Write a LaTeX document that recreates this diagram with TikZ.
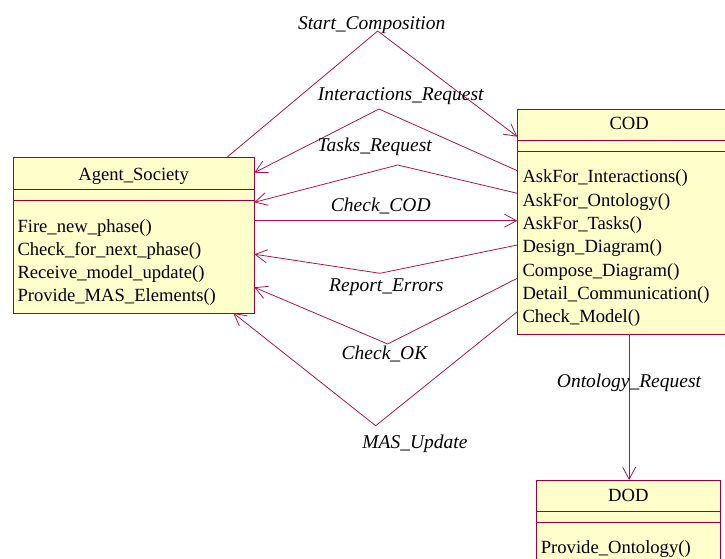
\documentclass[tikz,border=0pt]{standalone}
\usepackage{fontspec}
\setmainfont{Liberation Serif}
\usetikzlibrary{arrows.meta}
\definecolor{umlborder}{RGB}{160,0,50}
\definecolor{umlline}{RGB}{172,22,72}
\definecolor{umlfill}{RGB}{255,255,204}
\begin{document}
\begin{tikzpicture}[x=1pt,y=-1pt,
  classbox/.style={draw=umlborder, fill=umlfill, line width=0.9pt, rectangle,
    inner sep=0pt, outer sep=0pt, anchor=north west},
  divider/.style={draw=umlborder, line width=0.9pt},
  member/.style={anchor=west, inner sep=0pt, text height=13pt, text depth=4pt,
    font=\fontsize{18.6}{22}\selectfont},
  classname/.style={inner sep=0pt, text height=13pt, text depth=4pt,
    font=\fontsize{18.6}{22}\selectfont},
  msg/.style={inner sep=0pt, text height=13.5pt, text depth=4.5pt,
    font=\fontsize{19.5}{23}\selectfont\itshape},
  conn/.style={draw=umlline, line width=0.8pt},
  tip/.style={-{Straight Barb[length=12pt,width=13pt]}}
]
\clip (0,0) rectangle (725,559);

% class boxes
\node[classbox, minimum width=241.3pt, minimum height=155.5pt] (agent) at (13,157.5) {};
\node[classbox, minimum width=223.7pt, minimum height=225pt] (cod) at (517.3,109) {};
\node[classbox, minimum width=183.3pt, minimum height=120pt] (dod) at (536.7,480) {};

% compartment dividers
\draw[divider] (agent.west |- 0,189) -- (agent.east |- 0,189)
               (agent.west |- 0,200.7) -- (agent.east |- 0,200.7);
\draw[divider] (cod.west |- 0,140) -- (cod.east |- 0,140)
               (cod.west |- 0,151.7) -- (cod.east |- 0,151.7);
\draw[divider] (dod.west |- 0,511) -- (dod.east |- 0,511)
               (dod.west |- 0,522.3) -- (dod.east |- 0,522.3);

% class names
\node[classname] (agentname) at (agent.north |- 0,176) {Agent\_Society};
\node[classname] (codname) at (cod.north |- 0,125) {COD};
\node[classname] (dodname) at (dod.north |- 0,496.7) {DOD};

% operations
\foreach \op [count=\i from 0] in {Fire\_new\_phase(), Check\_for\_next\_phase(),
    Receive\_model\_update(), Provide\_MAS\_Elements()}
  \node[member] (agentop\i) at (17.3,{227.7+23*\i}) {\op};
\foreach \op [count=\i from 0] in {AskFor\_Interactions(), AskFor\_Ontology(),
    AskFor\_Tasks(), Design\_Diagram(), Compose\_Diagram(),
    Detail\_Communication(), Check\_Model()}
  \node[member] (codop\i) at (522.3,{178.3+23.3*\i}) {\op};
\node[member] (dodop0) at (540.7,549.3) {Provide\_Ontology()};

% bend points of the messages
\coordinate (scbend) at (377.7,31);
\coordinate (irbend) at (379,109);
\coordinate (trbend) at (397.7,165);
\coordinate (rebend) at (380,273.3);
\coordinate (okbend) at (387.7,344);
\coordinate (mubend) at (375.7,425.7);

% messages
\draw[conn,tip] (agent.north -| 226.7,0) -- (scbend) -- (cod.west |- 0,136.7);
\draw[conn,tip] (cod.west |- 0,170.7) -- (irbend) -- (agent.east |- 0,172.7);
\draw[conn,tip] (cod.west |- 0,193.3) -- (trbend) -- (agent.east |- 0,202.3);
\draw[conn,tip] (agent.east |- 0,220.7) -- (cod.west |- 0,220.7);
\draw[conn,tip] (cod.west |- 0,245) -- (rebend) -- (agent.east |- 0,254.2);
\draw[conn,tip] (cod.west |- 0,278.3) -- (okbend) -- (agent.east |- 0,287.3);
\draw[conn,tip] (cod.west |- 0,311.7) -- (mubend) -- (agent.south -| 233.3,0);
\draw[conn,tip] (cod.south) -- (cod.south |- dod.north);

% message labels
\node[msg] (lsc) at (371.7,25) {Start\_Composition};
\node[msg] (lir) at (400.7,96) {Interactions\_Request};
\node[msg] (ltr) at (374.7,147.3) {Tasks\_Request};
\node[msg] (lcc) at (380.8,206.7) {Check\_COD};
\node[msg] (lre) at (386.3,286.7) {Report\_Errors};
\node[msg] (lok) at (384.5,355) {Check\_OK};
\node[msg] (lmu) at (415,444) {MAS\_Update};
\node[msg] (lor) at (629,383.3) {Ontology\_Request};
\end{tikzpicture}
\end{document}
